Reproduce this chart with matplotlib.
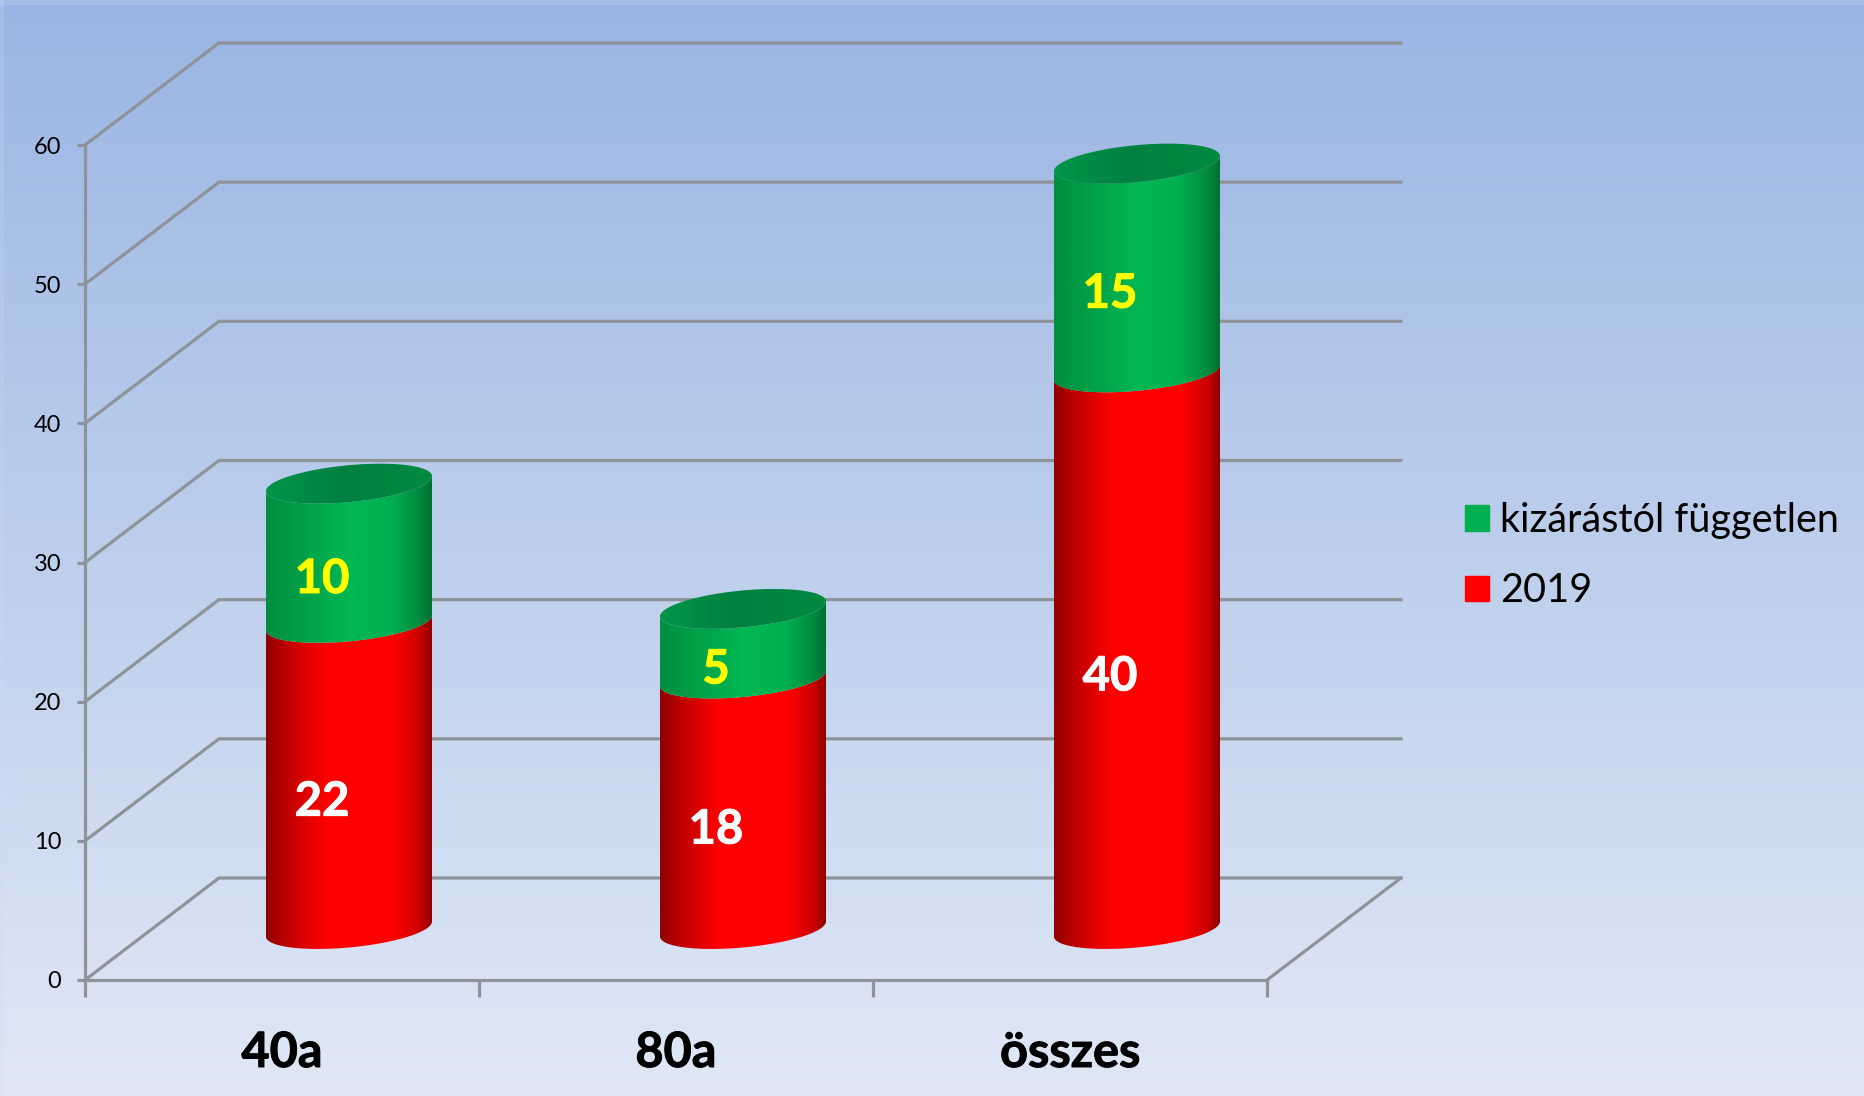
import numpy as np
import matplotlib
matplotlib.use("Agg")
import matplotlib.pyplot as plt
import matplotlib.patheffects as pe
from matplotlib.colors import LinearSegmentedColormap
from matplotlib.patches import Patch
from matplotlib.path import Path

categories = ["40a", "80a", "összes"]
series_2019 = [22, 18, 40]
series_independent = [10, 5, 15]
label_2019 = "2019"
label_independent = "kizárástól független"
y_ticks = [0, 10, 20, 30, 40, 50, 60]

W, H = 1864, 1096
LEFT, RIGHT, TOP, BOTTOM = 85, 1267, 145, 980  # front plane, pixels

# depth of the fake 3d box, in data units
DEPTH_X = 0.34
DEPTH_Y = 7.33
RADIUS = 0.2107
TILT = 0.54
MINOR = 1.33
GRID = "#8e9399"

plt.rcParams["font.family"] = ["Lato", "DejaVu Sans"]

red_cmap = LinearSegmentedColormap.from_list(
    "red", [(0, "#900000"), (0.14, "#c40000"), (0.36, "#ff0000"), (0.76, "#ff0000"), (0.92, "#cc0000"), (1, "#8a0000")])
green_cmap = LinearSegmentedColormap.from_list(
    "green", [(0, "#008e3e"), (0.5, "#00b853"), (0.75, "#00b050"), (0.92, "#008a3e"), (1, "#006e32")])
top_cmap = LinearSegmentedColormap.from_list(
    "top", [(0, "#00964a"), (0.45, "#008040"), (1, "#008a42")])
thicker = lambda c: [pe.withStroke(linewidth=0.7, foreground=c)]


def ellipse(cx, cy, t):
    return np.column_stack([cx + RADIUS * np.cos(t), cy + TILT * np.cos(t) + MINOR * np.sin(t)])


def painted(ax, verts, cmap, y0, y1, cx):
    path = Path(np.vstack([verts, verts[:1]]))
    grad = np.linspace(0, 1, 256).reshape(1, -1)
    im = ax.imshow(grad, cmap=cmap, vmin=0, vmax=1, aspect="auto", interpolation="bilinear",
                   extent=(cx - RADIUS, cx + RADIUS, y0 - 3, y1 + 3), zorder=3)
    im.set_clip_path(path, transform=ax.transData)
    im.set_clip_box(ax.figure.bbox)


def segment(ax, cx, y0, y1, cmap):
    low = np.linspace(np.pi, 2 * np.pi, 80)
    verts = np.vstack([ellipse(cx, y0, low), ellipse(cx, y1, low[::-1])])
    painted(ax, verts, cmap, y0, y1, cx)


fig = plt.figure(figsize=(W / 100, H / 100), dpi=100)

# slide background
bg_ax = fig.add_axes([0, 0, 1, 1], zorder=0)
bg_ax.axis("off")
top_col = np.array([154, 181, 227]) / 255
bot_col = np.array([224, 232, 245]) / 255
ramp = np.linspace(0, 1, H).reshape(-1, 1, 1)
bg = np.tile(top_col + ramp * (bot_col - top_col), (1, W, 1))
bg[:5, :, :] = bg[:5, :, :] * 0.75 + 0.25 * np.array([0.8, 0.85, 0.95])
bg[:, :4, :] = bg[:, :4, :] * 0.75 + 0.25 * np.array([0.8, 0.85, 0.95])
bg_ax.imshow(bg, aspect="auto")

ax = fig.add_axes([LEFT / W, 1 - BOTTOM / H, (RIGHT - LEFT) / W, (BOTTOM - TOP) / H], zorder=1)
ax.patch.set_visible(False)
x = np.arange(len(categories))

# wall and floor lines
for tick in y_ticks:
    ax.plot([-0.5, -0.5 + DEPTH_X, 2.5 + DEPTH_X], [tick, tick + DEPTH_Y, tick + DEPTH_Y],
            color=GRID, lw=2.3, clip_on=False, zorder=1, solid_joinstyle="miter")
ax.plot([2.5, 2.5 + DEPTH_X], [0, DEPTH_Y], color=GRID, lw=2.3, clip_on=False, zorder=1)

# cylinders
for i, cat in enumerate(categories):
    cx = x[i] + DEPTH_X / 2
    base = DEPTH_Y / 2
    mid = base + series_2019[i]
    top = mid + series_independent[i]
    segment(ax, cx, base, mid, red_cmap)
    segment(ax, cx, mid, top, green_cmap)
    painted(ax, ellipse(cx, top, np.linspace(0, 2 * np.pi, 160)), top_cmap, top, top, cx)

    ax.text(cx - 0.0685, base + series_2019[i] / 2 - 1.85, str(series_2019[i]), color="white",
            fontsize=34, fontweight="bold", ha="center", va="center", zorder=5, clip_on=False,
            path_effects=thicker("white"))
    ax.text(cx - 0.0685, mid + series_independent[i] / 2 - 1.85, str(series_independent[i]), color="#ffff00",
            fontsize=34, fontweight="bold", ha="center", va="center", zorder=5, clip_on=False,
            path_effects=thicker("#ffff00"))

ax.set_xlim(-0.5, 2.5)
ax.set_ylim(0, 60)

for side in ["top", "right"]:
    ax.spines[side].set_visible(False)
for side in ["left", "bottom"]:
    ax.spines[side].set_color(GRID)
    ax.spines[side].set_linewidth(2.3)

ax.set_yticks(y_ticks)
ax.tick_params(axis="y", length=6, width=2.3, color=GRID, labelsize=17, pad=11)
ax.set_xticks([-0.5, 0.5, 1.5, 2.5])
ax.set_xticklabels([])
ax.set_xticks(x, categories, minor=True)
ax.tick_params(axis="x", which="major", length=12, width=2.3, color=GRID)
ax.tick_params(axis="x", which="minor", length=0, labelsize=35, pad=36)
for lab in ax.get_xticklabels(minor=True):
    lab.set_fontweight("bold")
    lab.set_path_effects(thicker("black"))

handles = [Patch(color="#00b050", label=label_independent), Patch(color="#ff0000", label=label_2019)]
fig.legend(handles=handles, loc="upper left", bbox_to_anchor=(1465 / W, 1 - 502 / H), frameon=False,
           fontsize=28.5, handlelength=0.606, handleheight=0.606, handletextpad=0.28,
           labelspacing=0.84, borderpad=0, borderaxespad=0)

fig.savefig("out.png", dpi=100)
